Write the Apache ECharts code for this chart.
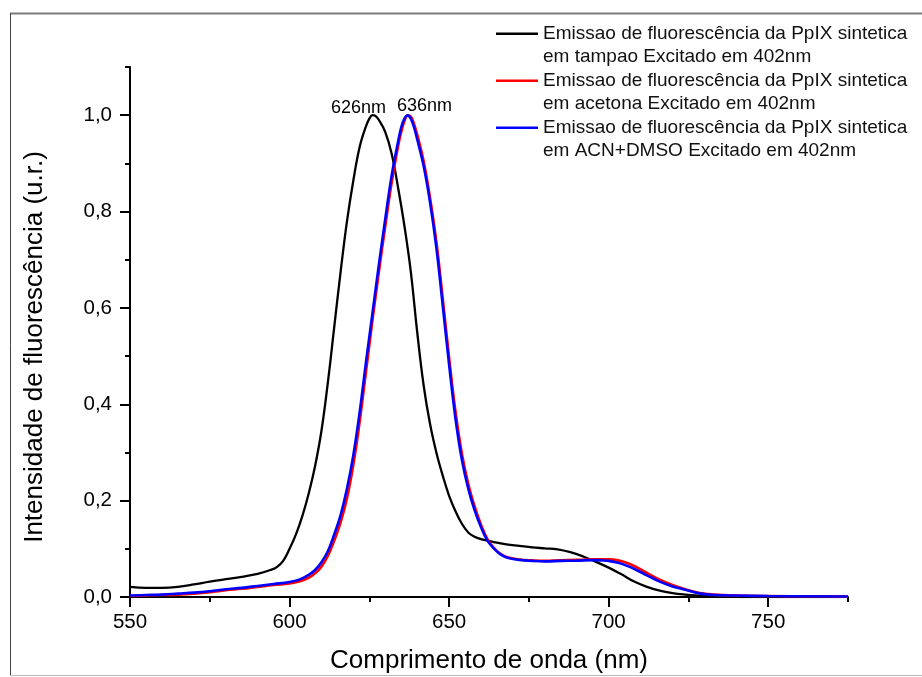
<!DOCTYPE html>
<html>
<head>
<meta charset="utf-8">
<script src="https://cdn.jsdelivr.net/npm/echarts@6/dist/echarts.min.js"></script>
<style>
html,body{margin:0;padding:0;background:#fff;}
#chart{width:922px;height:677px;}
</style>
</head>
<body>
<div id="chart"></div>
<script>
// ---- Data ----
const seriesNames = [
  'Emissao de fluorescência da PpIX sintetica\nem tampao Excitado em 402nm',
  'Emissao de fluorescência da PpIX sintetica\nem acetona Excitado em 402nm',
  'Emissao de fluorescência da PpIX sintetica\nem ACN+DMSO Excitado em 402nm'
];
const xBlack = [550,555,560,565,570,575,580,585,590,594,596,598,600,602,604,606,608,610,612,614,616,618,620,622,624,625,626,627,628,630,632,634,636,638,640,642,644,646,648,650,652,654,656,658,660,662,664,668,672,676,680,684,688,692,696,700,704,708,712,716,720,724,728,735,745,760,775];
const yBlack = [0.021,0.019,0.019,0.021,0.026,0.032,0.037,0.042,0.048,0.056,0.062,0.075,0.100,0.130,0.168,0.215,0.272,0.345,0.445,0.56,0.675,0.78,0.865,0.935,0.978,0.993,1.0,0.998,0.99,0.965,0.92,0.85,0.77,0.675,0.55,0.44,0.36,0.30,0.252,0.21,0.178,0.152,0.134,0.125,0.12,0.117,0.114,0.109,0.106,0.103,0.101,0.099,0.093,0.084,0.073,0.061,0.047,0.032,0.021,0.013,0.008,0.005,0.003,0.001,0.0,0.0,0.0];

const xRed = [550,555,560,565,570,575,580,585,590,595,600,603,606,608,610,612,614,616,618,620,622,624,626,628,630,632,634,635,636,637,638,639,640,642,644,646,648,650,652,654,656,658,660,662,664,666,668,672,676,680,685,690,695,698,700,703,706,709,712,716,720,724,728,733,740,750,775];
const yRed = [0.002,0.003,0.004,0.005,0.007,0.010,0.014,0.017,0.021,0.025,0.028,0.032,0.040,0.049,0.063,0.085,0.117,0.155,0.205,0.275,0.365,0.47,0.575,0.675,0.77,0.86,0.935,0.965,0.988,0.999,0.997,0.982,0.96,0.905,0.83,0.738,0.62,0.497,0.385,0.298,0.235,0.188,0.15,0.12,0.102,0.09,0.083,0.078,0.076,0.075,0.076,0.077,0.078,0.078,0.078,0.076,0.070,0.061,0.050,0.036,0.025,0.016,0.009,0.005,0.003,0.002,0.001];

const xBlue = [550,555,560,565,570,575,580,585,590,595,600,603,606,608,610,612,614,616,618,620,622,624,626,628,630,632,634,635,636,637,638,639,640,642,644,646,648,650,652,654,656,658,660,662,664,666,668,672,676,680,685,690,695,698,700,703,706,709,712,716,720,724,728,733,740,750,775];
const yBlue = [0.003,0.004,0.005,0.007,0.009,0.012,0.016,0.019,0.023,0.027,0.031,0.036,0.046,0.056,0.072,0.095,0.13,0.17,0.225,0.295,0.385,0.49,0.59,0.69,0.785,0.875,0.945,0.975,0.993,1.0,0.993,0.975,0.95,0.895,0.82,0.725,0.605,0.482,0.37,0.285,0.225,0.18,0.145,0.117,0.101,0.089,0.082,0.077,0.075,0.074,0.075,0.0755,0.0765,0.076,0.075,0.071,0.064,0.055,0.045,0.032,0.022,0.015,0.008,0.004,0.003,0.002,0.001];

const xMajorTicks = [550,600,650,700,750];
const xMinorTicks = [575,625,675,725,775];
const yMajorTicks = [0,0.2,0.4,0.6,0.8,1.0];
const yMinorTicks = [0.1,0.3,0.5,0.7,0.9,1.1];

const peakX = [626, 636];
const peakY = [1.0, 1.0];
const peakText = ['626nm', '636nm'];

const xTitle = 'Comprimento de onda (nm)';
const yTitle = 'Intensidade de fluorescência (u.r.)';

// ---- Chart ----
const FONT = 'Arial, "Liberation Sans", sans-serif';
const pairs = (xs, ys) => xs.map((x, i) => [x, ys[i]]);
const legendIcon = 'path://M0,0L0.01,0L0,0.01Z M0,10.5L42,10.5L42,13L0,13Z M0,47L0.01,47L0,46.99Z';

const chart = echarts.init(document.getElementById('chart'), null, {renderer: 'canvas'});
const axisLineStyle = {color: '#000', width: 2};

const option = {
  animation: false,
  backgroundColor: '#fff',
  grid: {left: 130, right: 74, top: 67, bottom: 80, containLabel: false, outerBoundsMode: 'none'},
  legend: {
    orient: 'vertical', left: 496, top: 22, padding: 0, itemGap: 0,
    itemWidth: 42, itemHeight: 47, icon: legendIcon,
    itemStyle: {borderWidth: 0},
    textStyle: {fontSize: 19, lineHeight: 23.5, color: '#111', fontFamily: FONT},
    data: seriesNames
  },
  xAxis: [{
    type: 'value', min: 550, max: 775, position: 'bottom',
    name: xTitle, nameLocation: 'middle', nameGap: 51,
    nameTextStyle: {fontSize: 26, color: '#000', fontFamily: FONT},
    axisLine: {show: true, lineStyle: axisLineStyle},
    axisTick: {show: true, length: 10, customValues: xMajorTicks, lineStyle: {color: '#000', width: 2}},
    axisLabel: {show: true, customValues: xMajorTicks, margin: 15, fontSize: 20.5, color: '#000', fontFamily: FONT},
    splitLine: {show: false}
  }, {
    type: 'value', min: 550, max: 775, position: 'bottom', offset: 0,
    axisLine: {show: false},
    axisTick: {show: true, length: 5, customValues: xMinorTicks, lineStyle: {color: '#000', width: 2}},
    axisLabel: {show: false},
    splitLine: {show: false}
  }],
  yAxis: [{
    type: 'value', min: 0, max: 1.1, position: 'left',
    name: yTitle, nameLocation: 'middle', nameGap: 82,
    nameTextStyle: {fontSize: 26, color: '#000', fontFamily: FONT, padding: [0, 30, 0, 0]},
    axisLine: {show: true, lineStyle: axisLineStyle},
    axisTick: {show: true, length: 10, customValues: yMajorTicks, lineStyle: {color: '#000', width: 2}},
    axisLabel: {show: true, customValues: yMajorTicks, margin: 18, fontSize: 20.5, color: '#000', fontFamily: FONT,
      formatter: v => v.toFixed(1).replace('.', ',')},
    splitLine: {show: false}
  }, {
    type: 'value', min: 0, max: 1.1, position: 'left', offset: 0,
    axisLine: {show: false},
    axisTick: {show: true, length: 5, customValues: yMinorTicks, lineStyle: {color: '#000', width: 2}},
    axisLabel: {show: false},
    splitLine: {show: false}
  }],
  series: [{
    name: seriesNames[0], type: 'line', data: pairs(xBlack, yBlack),
    showSymbol: false, smooth: 0.4, color: '#000',
    lineStyle: {color: '#000', width: 2.3},
    markPoint: {
      symbol: 'circle', symbolSize: 0, silent: true,
      data: [
        {coord: [peakX[0], peakY[0]], value: peakText[0],
         label: {show: true, position: 'inside', offset: [-14, -7], formatter: peakText[0], color: '#000', fontSize: 18, fontFamily: FONT}},
        {coord: [peakX[1], peakY[1]], value: peakText[1],
         label: {show: true, position: 'inside', offset: [20, -9.5], formatter: peakText[1], color: '#000', fontSize: 18, fontFamily: FONT}}
      ]
    }
  }, {
    name: seriesNames[1], type: 'line', data: pairs(xRed, yRed),
    showSymbol: false, smooth: 0.4, color: '#ff0000',
    lineStyle: {color: '#ff0000', width: 2.6}
  }, {
    name: seriesNames[2], type: 'line', data: pairs(xBlue, yBlue),
    showSymbol: false, smooth: 0.4, color: '#0000ff',
    lineStyle: {color: '#0000ff', width: 2.6}
  }],
  graphic: [
    {type: 'line', silent: true, shape: {x1: 10, y1: 13.5, x2: 922, y2: 13.5}, style: {stroke: '#7a7a7a', lineWidth: 2}},
    {type: 'line', silent: true, shape: {x1: 10.5, y1: 13, x2: 10.5, y2: 676}, style: {stroke: '#444', lineWidth: 1}},
    {type: 'line', silent: true, shape: {x1: 10, y1: 675.5, x2: 922, y2: 675.5}, style: {stroke: '#bbb', lineWidth: 1}}
  ]
};
chart.setOption(option);
</script>
</body>
</html>
